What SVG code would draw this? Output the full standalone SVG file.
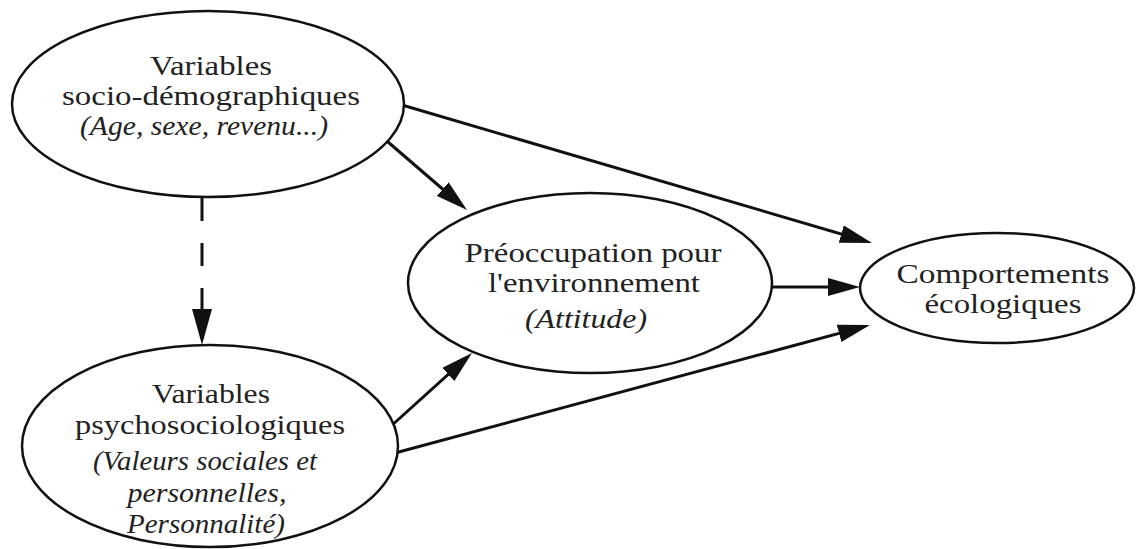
<svg xmlns="http://www.w3.org/2000/svg" width="1137" height="549" viewBox="0 0 1137 549">
<style>
.node ellipse{fill:#fff;stroke:#111;stroke-width:2.5}
.t{font-family:"Liberation Serif","Times New Roman",serif;font-size:27px;fill:#222;text-anchor:middle}
.i{font-style:italic}
.c{stroke:#111;stroke-width:3;fill:none}
</style>
<defs>
<marker id="ah" markerUnits="userSpaceOnUse" markerWidth="32" markerHeight="18" refX="22" refY="9" orient="auto">
<path d="M0,0 L32,9 L0,18 z" fill="#111"/>
</marker>
<marker id="ahd" markerUnits="userSpaceOnUse" markerWidth="36" markerHeight="20" refX="26" refY="10" orient="auto">
<path d="M0,0 L36,10 L0,20 z" fill="#111"/>
</marker>
</defs>
<rect width="1137" height="549" fill="#fff"/>
<g id="connectors">
<line class="c" x1="402" y1="105" x2="862.4" y2="240.2" marker-end="url(#ah)"/>
<line class="c" x1="388" y1="142" x2="459.4" y2="203.5" marker-end="url(#ah)"/>
<line class="c" x1="772" y1="287" x2="850" y2="287" marker-end="url(#ah)"/>
<line class="c" x1="390" y1="427" x2="464.6" y2="359.7" marker-end="url(#ah)"/>
<line class="c" x1="395" y1="453" x2="860.3" y2="327.6" marker-end="url(#ah)"/>
<line class="c" x1="202" y1="198" x2="202" y2="335" stroke-dasharray="23 22" marker-end="url(#ahd)"/>
</g>
<g id="socio" class="node">
<ellipse cx="208" cy="104" rx="196" ry="93"/>
<text class="t" x="211" y="75" textLength="122" lengthAdjust="spacingAndGlyphs">Variables</text>
<text class="t" x="211" y="105" textLength="298" lengthAdjust="spacingAndGlyphs">socio-démographiques</text>
<text class="t i" x="204" y="135" textLength="248" lengthAdjust="spacingAndGlyphs">(Age, sexe, revenu...)</text>
</g>
<g id="psycho" class="node">
<ellipse cx="210" cy="446" rx="188" ry="101"/>
<text class="t" x="211" y="403" textLength="118" lengthAdjust="spacingAndGlyphs">Variables</text>
<text class="t" x="210" y="434" textLength="270" lengthAdjust="spacingAndGlyphs">psychosociologiques</text>
<text class="t i" x="205" y="470" textLength="224" lengthAdjust="spacingAndGlyphs">(Valeurs sociales et</text>
<text class="t i" x="207" y="502" textLength="159" lengthAdjust="spacingAndGlyphs">personnelles,</text>
<text class="t i" x="206" y="533" textLength="158" lengthAdjust="spacingAndGlyphs">Personnalité)</text>
</g>
<g id="preoccupation" class="node">
<ellipse cx="590" cy="283" rx="182" ry="90"/>
<text class="t" x="593" y="262" textLength="257" lengthAdjust="spacingAndGlyphs">Préoccupation pour</text>
<text class="t" x="594" y="292" textLength="212" lengthAdjust="spacingAndGlyphs">l'environnement</text>
<text class="t i" x="586" y="328" textLength="122" lengthAdjust="spacingAndGlyphs">(Attitude)</text>
</g>
<g id="comportements" class="node">
<ellipse cx="997" cy="288" rx="137" ry="55"/>
<text class="t" x="1003" y="283" textLength="213" lengthAdjust="spacingAndGlyphs">Comportements</text>
<text class="t" x="1003" y="313" textLength="157" lengthAdjust="spacingAndGlyphs">écologiques</text>
</g>
</svg>
